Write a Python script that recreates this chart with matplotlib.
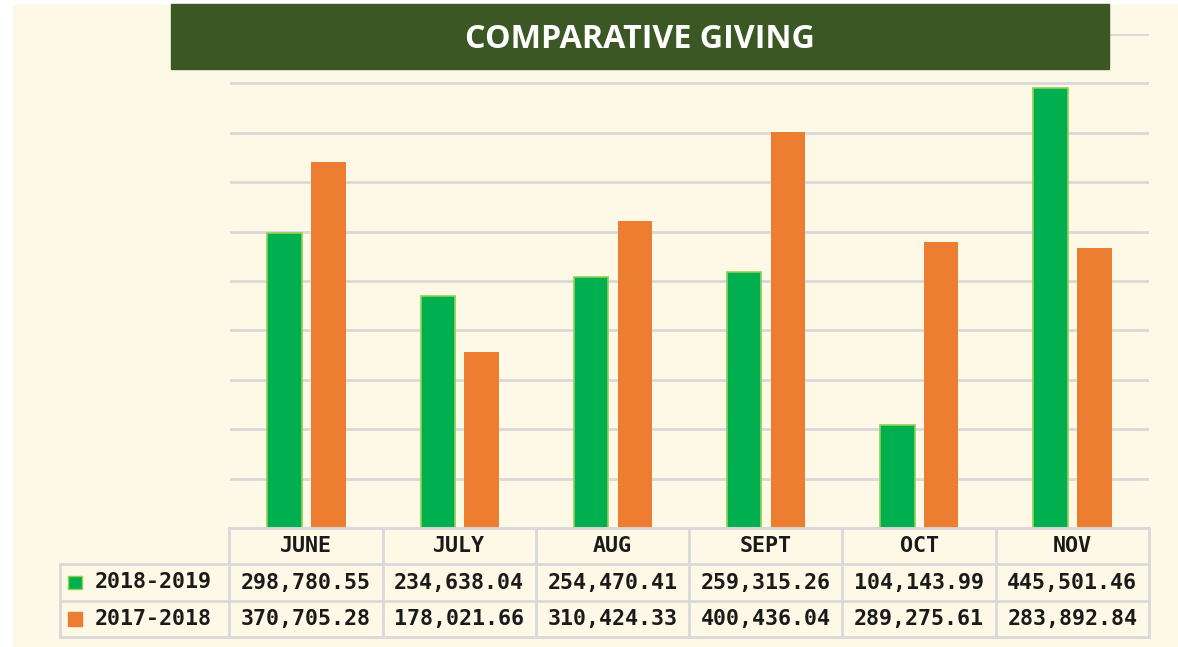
import numpy as np
import matplotlib
matplotlib.use("Agg")
import matplotlib.pyplot as plt
import matplotlib.patches as pt

months = ["JUNE", "JULY", "AUG", "SEPT", "OCT", "NOV"]
series_names = ["2018-2019", "2017-2018"]
giving_1819 = [298780.55, 234638.04, 254470.41, 259315.26, 104143.99, 445501.46]
giving_1718 = [370705.28, 178021.66, 310424.33, 400436.04, 289275.61, 283892.84]
y_ticks = np.arange(0, 500001, 50000)

W, H = 1178, 647
CREMA = "#FEF8E6"
VERDE = "#00B050"
NARANJA = "#ED7D31"
GRIS = "#D9D9D9"
TEXTO = "#1A1A1A"

def caja(x0, y0, x1, y1):
    # pixeles (desde arriba) -> coordenadas de figura
    return [x0 / W, (H - y1) / H, (x1 - x0) / W, (y1 - y0) / H]

fig = plt.figure(figsize=(W / 100, H / 100), dpi=100, facecolor="white")
fig.patches.append(pt.Rectangle((13 / W, 0), 1, (H - 5) / H, transform=fig.transFigure,
                                color=CREMA, zorder=-5))

# grafico de barras
ax = fig.add_axes(caja(230, 34, 1149, 528))
ax.set_facecolor("none")
x = np.arange(len(months))
ancho = 0.225
ax.bar(x - 0.143, giving_1819, ancho, color=VERDE, edgecolor="#92D050", linewidth=1.2, zorder=3)
ax.bar(x + 0.143, giving_1718, ancho, color=NARANJA, linewidth=0, zorder=3)
ax.set_xlim(-0.5, len(months) - 0.5)
ax.set_ylim(0, y_ticks[-1])
ax.set_yticks(y_ticks)
ax.yaxis.grid(True, color=GRIS, linewidth=2)
ax.set_axisbelow(True)
ax.tick_params(left=False, bottom=False, labelleft=False, labelbottom=False)
for s in ax.spines.values():
    s.set_visible(False)

# titulo
fig.patches.append(pt.Rectangle((171 / W, (H - 69) / H), (1109 - 171) / W, 65 / H,
                                transform=fig.transFigure, color="#3B5723", zorder=5))
fig.text(640 / W, (H - 39) / H, "COMPARATIVE GIVING", color="white", fontsize=23.2,
         fontweight="bold", family="Open Sans", ha="center", va="center", zorder=6)

# tabla de datos
col_lab = 169 / 153
tab = fig.add_axes(caja(60, 528, 1149, 637))
tab.set_xlim(-0.5 - col_lab, len(months) - 0.5)
tab.set_ylim(3, 0)
tab.axis("off")
tab.set_facecolor("none")
izq = -0.5 - col_lab
lw = 2
tab.plot([-0.5, len(months) - 0.5], [0, 0], color=GRIS, lw=lw, clip_on=False)
for r in [1, 2, 3]:
    tab.plot([izq, len(months) - 0.5], [r, r], color=GRIS, lw=lw, clip_on=False)
for c in np.arange(-0.5, len(months), 1.0):
    tab.plot([c, c], [0, 3], color=GRIS, lw=lw, clip_on=False)
tab.plot([izq, izq], [1, 3], color=GRIS, lw=lw, clip_on=False)

fuente = dict(family="DejaVu Sans Mono", fontweight="bold", fontsize=15.6, color=TEXTO,
              va="center")
for i, m in enumerate(months):
    tab.text(i, 0.5, m, ha="center", **fuente)
colores = [VERDE, NARANJA]
bordes = ["#92D050", NARANJA]
for r, (nombre, vals) in enumerate(zip(series_names, [giving_1819, giving_1718])):
    fila = r + 1.5
    tab.add_patch(pt.Rectangle((izq + 8 / 153, fila - 7 / 37), 14 / 153, 14 / 37,
                               facecolor=colores[r], edgecolor=bordes[r], lw=1))
    tab.text(izq + 35 / 153, fila, nombre, ha="left", **fuente)
    for i, v in enumerate(vals):
        tab.text(i, fila, f"{v:,.2f}", ha="center", **fuente)

fig.savefig("out.png", dpi=100, facecolor="white")
